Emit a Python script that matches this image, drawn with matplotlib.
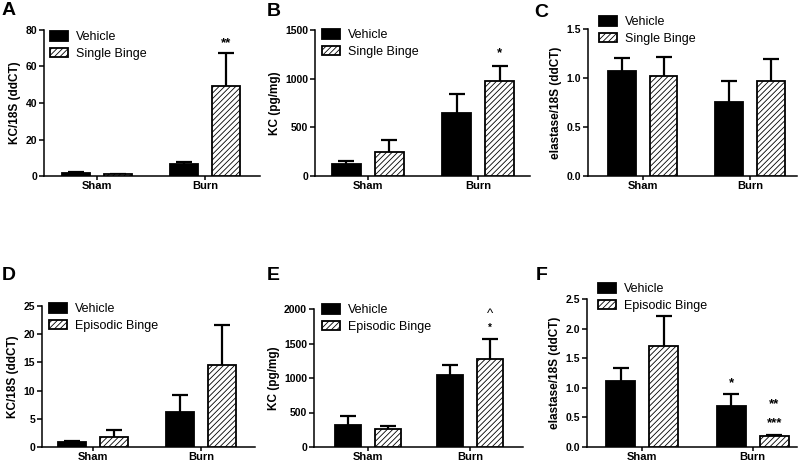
import matplotlib
matplotlib.use("Agg")
import matplotlib.pyplot as plt
import numpy as np

plt.rcParams['font.family'] = ['Liberation Sans', 'DejaVu Sans']
plt.rcParams['hatch.linewidth'] = 0.6

groups = ["Sham", "Burn"]

# Panel data: (vehicle means, vehicle SEM, binge means, binge SEM)
a_veh = [1.5, 6.5]
a_veh_err = [0.5, 1.0]
a_bin = [1.0, 49.5]
a_bin_err = [0.3, 18.0]

b_veh = [125, 645]
b_veh_err = [25, 200]
b_bin = [250, 980]
b_bin_err = [120, 155]

c_veh = [1.07, 0.76]
c_veh_err = [0.13, 0.21]
c_bin = [1.02, 0.97]
c_bin_err = [0.19, 0.22]

d_veh = [0.9, 6.2]
d_veh_err = [0.15, 3.0]
d_bin = [1.7, 14.6]
d_bin_err = [1.4, 7.0]

e_veh = [320, 1040]
e_veh_err = [135, 155]
e_bin = [255, 1270]
e_bin_err = [55, 300]

f_veh = [1.11, 0.69]
f_veh_err = [0.22, 0.21]
f_bin = [1.70, 0.19]
f_bin_err = [0.51, 0.02]

ylabels = ["KC/18S (ddCT)", "KC (pg/mg)", "elastase/18S (ddCT)",
           "KC/18S (ddCT)", "KC (pg/mg)", "elastase/18S (ddCT)"]
legend_single = ["Vehicle", "Single Binge"]
legend_episodic = ["Vehicle", "Episodic Binge"]
letters = ["A", "B", "C", "D", "E", "F"]

yticks = [[0, 20, 40, 60, 80], [0, 500, 1000, 1500], [0.0, 0.5, 1.0, 1.5],
          [0, 5, 10, 15, 20, 25], [0, 500, 1000, 1500, 2000],
          [0.0, 0.5, 1.0, 1.5, 2.0, 2.5]]
ytick_fmt = ["{:.0f}", "{:.0f}", "{:.1f}", "{:.0f}", "{:.0f}", "{:.1f}"]

# annotations: (group index, series index 0=veh 1=binge, y value, text)
annotations = [
    [(1, 1, 73, "**")],
    [(1, 1, 1265, "*")],
    [],
    [],
    [(1, 1, 1725, "*"), (1, 1, 1925, "^")],
    [(1, 0, 1.08, "*"), (1, 1, 0.73, "**"), (1, 1, 0.41, "***")],
]

W, H = 800, 462
fig = plt.figure(figsize=(8, 4.62), dpi=100)

def px_axes(l, r, t, b):
    return [l / W, 1 - b / H, (r - l) / W, (b - t) / H]

axes_px = [(44, 260, 30, 176), (315, 530, 30, 176), (588, 797, 29, 176),
           (42, 255, 306, 447), (314, 523, 309, 447), (587, 797, 299, 447)]
xlims = [(-0.49, 1.51), (-0.48, 1.47), (-0.51, 1.44),
         (-0.47, 1.5), (-0.53, 1.52), (-0.5, 1.4)]
leg_px = [(50, 31), (322, 29), (599, 16), (49, 303), (322, 304), (598, 283)]
letter_px = [(2, 15), (267, 16), (534, 17), (2, 280), (267, 280), (536, 280)]

data = [(a_veh, a_veh_err, a_bin, a_bin_err),
        (b_veh, b_veh_err, b_bin, b_bin_err),
        (c_veh, c_veh_err, c_bin, c_bin_err),
        (d_veh, d_veh_err, d_bin, d_bin_err),
        (e_veh, e_veh_err, e_bin, e_bin_err),
        (f_veh, f_veh_err, f_bin, f_bin_err)]

width = 0.26
off = 0.195
lw = 1.3

for i in range(6):
    ax = fig.add_axes(px_axes(*axes_px[i]))
    veh, veh_err, binv, bin_err = data[i]
    labels = legend_single if i < 3 else legend_episodic
    x = np.arange(len(groups))
    ax.bar(x - off, veh, width, color='black', edgecolor='black',
           linewidth=lw, zorder=3, label=labels[0])
    ax.bar(x + off, binv, width, color='white', edgecolor='black',
           hatch='//////', linewidth=lw, zorder=3, label=labels[1])
    for xs, m, e in [(x - off, veh, veh_err), (x + off, binv, bin_err)]:
        eb = ax.errorbar(xs, m, yerr=[np.zeros(len(e)), e], fmt='none',
                         ecolor='black', elinewidth=1.6, capsize=5.5,
                         capthick=1.6, zorder=2)
        eb[1][0].set_visible(False)
    tks = yticks[i]
    ax.set_ylim(tks[0], tks[-1])
    ax.set_yticks(tks)
    ax.set_yticklabels([ytick_fmt[i].format(t) for t in tks],
                       fontweight='bold', fontsize=7.5)
    ax.set_xlim(*xlims[i])
    ax.set_xticks(x)
    ax.set_xticklabels(groups, fontweight='bold', fontsize=8)
    ax.tick_params(axis='both', direction='out', length=3.5, width=1.1, pad=1.5)
    ax.tick_params(axis='x', length=3, pad=0.5)
    ax.set_ylabel(ylabels[i], fontweight='bold', fontsize=8.5, labelpad=3)
    for s in ['top', 'right']:
        ax.spines[s].set_visible(False)
    for s in ['left', 'bottom']:
        ax.spines[s].set_linewidth(1.1)
    for (g, sidx, yv, txt) in annotations[i]:
        xp = g + (off if sidx == 1 else -off)
        fs = 7 if txt == "*" and i == 4 else 9.5
        ax.text(xp, yv, txt, ha='center', va='center', fontsize=fs,
                fontweight='bold' if txt != "^" else 'normal')
    lx, ly = leg_px[i]
    ax.legend(loc='upper left', bbox_to_anchor=(lx / W, 1 - ly / H),
              bbox_transform=fig.transFigure, frameon=False, fontsize=9,
              borderpad=0, borderaxespad=0, handlelength=1.4,
              handleheight=0.8, handletextpad=0.7, labelspacing=0.35)
    tx, ty = letter_px[i]
    fig.text(tx / W, 1 - ty / H, letters[i], fontsize=14, fontweight='bold',
             ha='left', va='baseline')

fig.savefig("out.png", dpi=100)
